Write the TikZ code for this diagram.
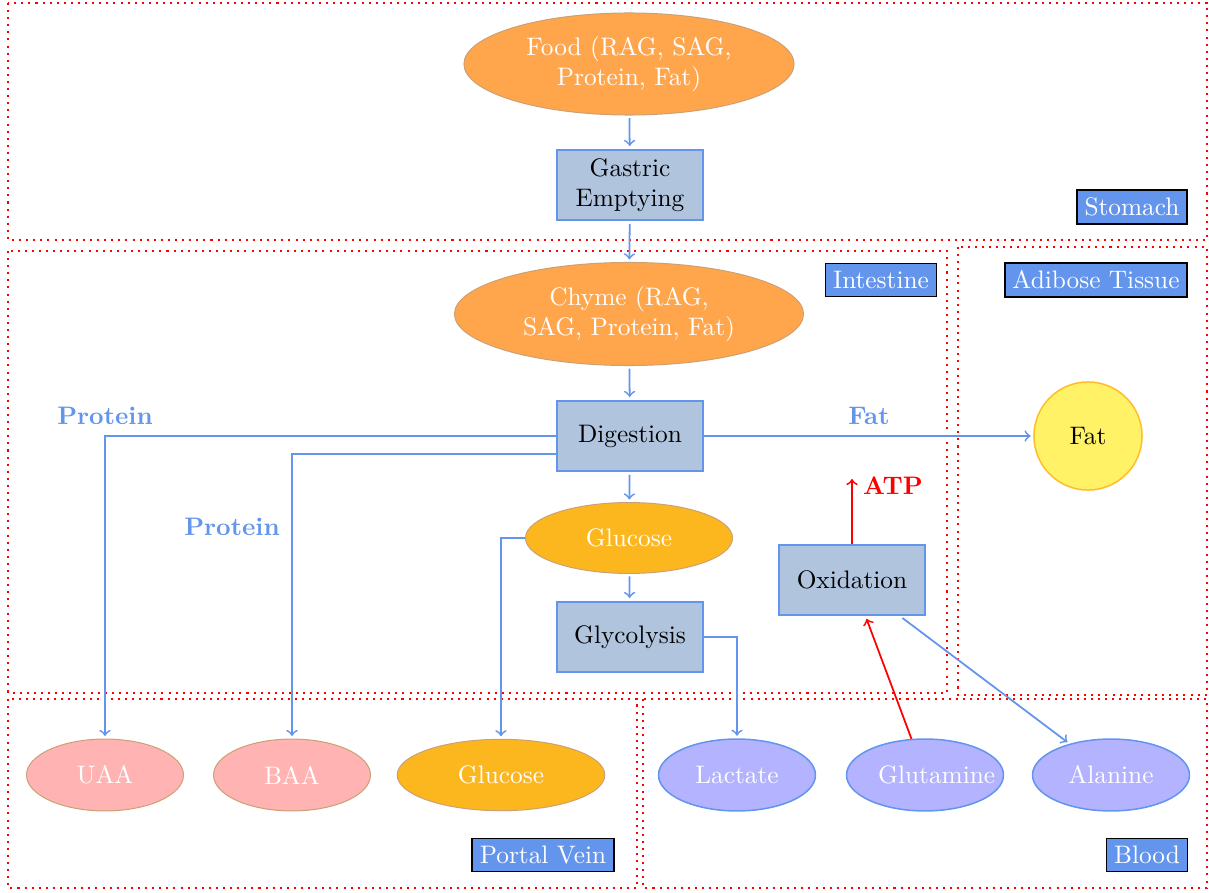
\documentclass[tikz,border=0pt]{standalone}
\usetikzlibrary{shapes.geometric}

\definecolor{cfblue}{RGB}{100,149,237}
\definecolor{steel}{RGB}{176,196,222}
\definecolor{foodorange}{RGB}{255,166,77}
\definecolor{sugargold}{RGB}{253,183,30}
\definecolor{tanline}{RGB}{205,160,115}
\definecolor{pinkfill}{RGB}{255,179,179}
\definecolor{lilac}{RGB}{179,179,255}
\definecolor{fatfill}{RGB}{255,242,102}
\definecolor{fatline}{RGB}{255,190,40}

\tikzset{
  region/.style={red, dotted, thick},
  tag/.style={draw=black, semithick, fill=cfblue, text=white, inner sep=3pt},
  proc/.style={rectangle, draw=cfblue, thick, fill=steel, minimum width=57.7pt,
    minimum height=28pt, align=center},
  food/.style={ellipse, draw=tanline, fill=foodorange, text=white, align=center, inner sep=0pt},
  sugar/.style={ellipse, draw=tanline, fill=sugargold, text=white, minimum width=82pt,
    minimum height=28.2pt},
  amino/.style={ellipse, draw=tanline, fill=pinkfill, text=white, text width=1.3cm,
    align=center, minimum width=62pt, minimum height=28.4pt},
  metab/.style={ellipse, draw=cfblue, semithick, fill=lilac, text=white, text width=1.3cm,
    align=center, minimum width=62pt, minimum height=28.4pt},
  flow/.style={->, cfblue, line width=0.7pt, shorten >=1pt, shorten <=1pt},
  hot/.style={->, red, line width=0.7pt},
  flowlabel/.style={text=cfblue, font=\bfseries},
}

\begin{document}
\begin{tikzpicture}[x=0.395pt, y=-0.395pt]
  \useasboundingbox (0,0) rectangle (1209,893);

  % compartments
  \draw[region] (8,3) rectangle (1207,240);
  \draw[region] (8,251) rectangle (947,693);
  \draw[region] (958,247) rectangle (1207,695);
  \draw[region] (8,699) rectangle (637,888);
  \draw[region] (643,699) rectangle (1207,888);

  % compartment tags
  \node[tag] (tstomach) at (1132,207) {Stomach};
  \node[tag] (tintestine) at (881,280) {Intestine};
  \node[tag] (tadipose) at (1096,280) {Adibose Tissue};
  \node[tag] (tportal) at (543,855) {Portal Vein};
  \node[tag] (tblood) at (1147,855) {Blood};

  % main pathway
  \node[food, minimum width=130.4pt, minimum height=40.3pt] (food) at (629,64)
    {Food (RAG, SAG,\\Protein, Fat)};
  \node[proc] (gast) at (630,185) {Gastric\\Emptying};
  \node[food, minimum width=137.9pt, minimum height=40.7pt] (chyme) at (629,314)
    {Chyme (RAG,\\SAG, Protein, Fat)};
  \node[proc] (dig) at (630,436) {Digestion};
  \node[sugar, minimum width=81.8pt, minimum height=28pt] (glu) at (629,538) {Glucose};
  \node[proc] (gly) at (630,637) {Glycolysis};
  \node[proc] (ox) at (852,580) {Oxidation};
  \node[circle, draw=fatline, semithick, fill=fatfill, minimum size=42.7pt] (fat) at (1088,436) {Fat};

  % portal vein and blood
  \node[amino] (uaa) at (105,775) {UAA};
  \node[amino] (baa) at (292,775) {BAA};
  \node[sugar] (glu2) at (501,775) {Glucose};
  \node[metab] (lac) at (737,775) {Lactate};
  \node[metab] (glut) at (925,775) {Glutamine};
  \node[metab] (ala) at (1111,775) {Alanine};

  % labels on the flows
  \node[flowlabel] (lprot1) at (105,416) {Protein};
  \node[flowlabel] (lprot2) at (232,527) {Protein};
  \node[flowlabel] (lfat) at (869,416) {Fat};
  \node[text=red, font=\bfseries] (latp) at (893,486) {ATP};
  \coordinate (atp) at (852,479);

  % connectors
  \draw[flow] (food) -- (gast);
  \draw[flow] (gast) -- (chyme);
  \draw[flow] (chyme) -- (dig);
  \draw[flow] (dig) -- (glu);
  \draw[flow] (glu) -- (gly);
  \draw[flow, shorten <=0pt] (dig.east) -- (fat.west);
  \draw[flow, shorten <=0pt] (dig.west) -| (uaa.north);
  \draw[flow, shorten <=0pt] ([yshift=-7pt]dig.west) -| (baa.north);
  \draw[flow, shorten <=0pt] (glu.west) -| (glu2.north);
  \draw[flow, shorten <=0pt] (gly.east) -| (lac.north);
  \draw[hot] (ox.north) -- (atp);
  \draw[hot, shorten >=1pt] (glut) -- (ox);
  \draw[flow] (ox) -- (ala);
\end{tikzpicture}
\end{document}
